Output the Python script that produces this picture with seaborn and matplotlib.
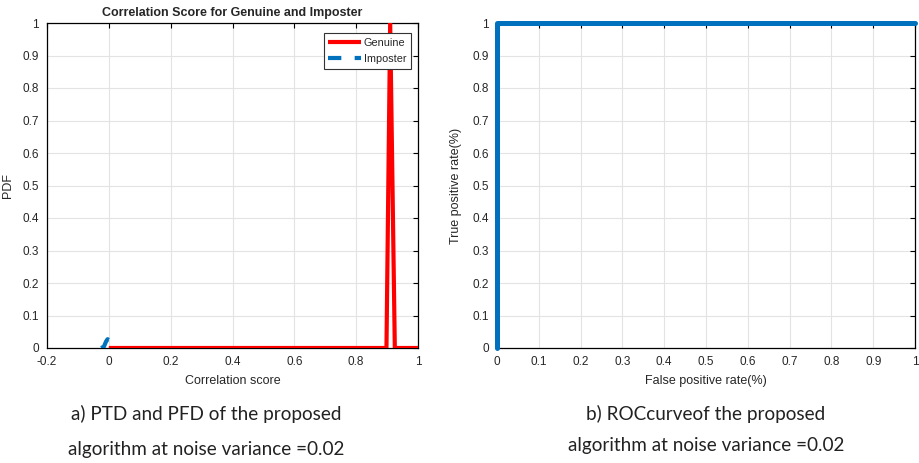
import numpy as np
import pandas as pd
import matplotlib
matplotlib.use("Agg")
import matplotlib.pyplot as plt
import seaborn as sns

# ---- data ----
genuine_x = [0.0, 0.898, 0.910, 0.925, 1.0]
genuine_y = [0.0, 0.0, 1.0, 0.0, 0.0]
imposter_x = [-0.025, -0.016, -0.009, -0.004, 0.0]
imposter_y = [0.0, 0.004, 0.020, 0.027, 0.025]
roc_fpr = [0.0, 0.0, 1.0]
roc_tpr = [0.0, 1.0, 1.0]

left_xticks = [-0.2, 0, 0.2, 0.4, 0.6, 0.8, 1]
left_xticklabels = ["-0.2", "0", "0.2", "0.4", "0.6", "0.8", "1"]
yticks = [0, 0.1, 0.2, 0.3, 0.4, 0.5, 0.6, 0.7, 0.8, 0.9, 1]
ytick_labels = ["0", "0.1", "0.2", "0.3", "0.4", "0.5", "0.6", "0.7", "0.8", "0.9", "1"]
right_xticks = yticks
right_xticklabels = ytick_labels

sns.set_style("white")
plt.rcParams['font.family'] = ['Liberation Sans', 'DejaVu Sans']

RED = "#ff0000"
BLUE = "#0072BD"
GRID = "#e3e3e3"

fig = plt.figure(figsize=(9.2, 4.63), dpi=100)
ax1 = fig.add_axes([47/920, 1-348/463, (418-47)/920, (348-23)/463])
ax2 = fig.add_axes([497/920, 1-348/463, (915-497)/920, (348-23)/463])

gen_df = pd.DataFrame({"x": genuine_x, "y": genuine_y})
imp_df = pd.DataFrame({"x": imposter_x, "y": imposter_y})
roc_df = pd.DataFrame({"fpr": roc_fpr, "tpr": roc_tpr})

sns.lineplot(data=gen_df, x="x", y="y", ax=ax1, color=RED, lw=3, sort=False,
             estimator=None, label="Genuine", zorder=3)
sns.lineplot(data=imp_df, x="x", y="y", ax=ax1, color=BLUE, lw=3, sort=False,
             estimator=None, label="Imposter", zorder=3)
for l in ax1.get_lines():
    l.set_solid_capstyle("butt")
ax1.get_lines()[1].set_dashes([3.2, 3.2])

sns.lineplot(data=roc_df, x="fpr", y="tpr", ax=ax2, color=BLUE, lw=3.6, sort=False,
             estimator=None, zorder=3, clip_on=False)

for ax in (ax1, ax2):
    ax.set_ylim(0, 1)
    ax.set_yticks(yticks)
    ax.set_yticklabels(ytick_labels)
    ax.grid(True, color=GRID, lw=0.8)
    ax.tick_params(direction="in", length=3.5, width=0.8, color="black",
                   top=True, right=True, labelsize=8.5, pad=6, labelcolor="#262626")
    for s in ax.spines.values():
        s.set_visible(True)
        s.set_color("black")
        s.set_linewidth(0.9)
    ax.set_axisbelow(True)

ax1.set_xlim(-0.2, 1)
ax1.set_xticks(left_xticks)
ax1.set_xticklabels(left_xticklabels)
ax2.set_xlim(0, 1)
ax2.set_xticks(right_xticks)
ax2.set_xticklabels(right_xticklabels)

ax1.set_title("Correlation Score for Genuine and Imposter", fontsize=9,
              fontweight="bold", pad=5)
ax1.set_xlabel("Correlation score", fontsize=9, labelpad=5)
ax1.set_ylabel("PDF", fontsize=9)
ax1.yaxis.set_label_coords((14-47)/371, 0.5)
ax2.set_xlabel("False positive rate(%)", fontsize=9, labelpad=5)
ax2.set_ylabel("True positive rate(%)", fontsize=9)
ax2.yaxis.set_label_coords((462-497)/418, 0.5)

leg = ax1.legend(loc="upper right", fontsize=7.8, frameon=True, fancybox=False,
                 edgecolor="#333333", framealpha=1, borderpad=0.45,
                 handlelength=3.0, handletextpad=0.25, labelspacing=0.55,
                 borderaxespad=0, bbox_to_anchor=(1-7/371, 1-10/325))
leg.get_frame().set_linewidth(0.8)

cap_font = ['Lato', 'DejaVu Sans']
fig.text(206/920, 1-414/463, "a) PTD and PFD of the proposed", ha="center", va="center",
         fontsize=13.6, family=cap_font, color="#222222")
fig.text(206/920, 1-450/463, "algorithm at noise variance =0.02", ha="center", va="center",
         fontsize=13.6, family=cap_font, color="#222222")
fig.text(706/920, 1-414/463, "b) ROCcurveof the proposed", ha="center", va="center",
         fontsize=13.6, family=cap_font, color="#222222")
fig.text(706/920, 1-446/463, "algorithm at noise variance =0.02", ha="center", va="center",
         fontsize=13.6, family=cap_font, color="#222222")

fig.savefig("out.png", dpi=100)
